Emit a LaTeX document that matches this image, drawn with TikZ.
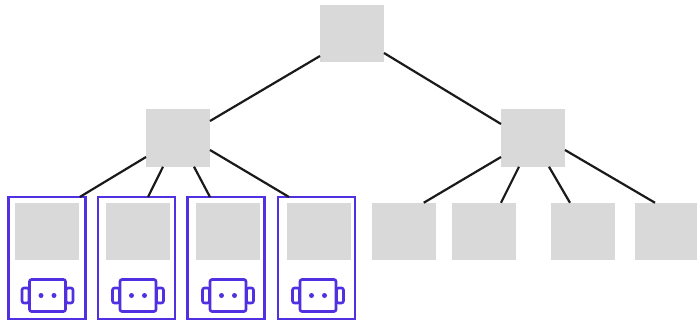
\documentclass[tikz,border=0pt]{standalone}
\definecolor{gbox}{HTML}{D9D9D9}
\definecolor{blu}{HTML}{5030E0}
\definecolor{lin}{HTML}{1A1A1A}
\tikzset{
  sq/.style={fill=gbox,draw=none,inner sep=0pt,outer sep=0pt,minimum width=64pt,minimum height=#1},
  sq/.default=57.5pt,
  frame/.style={draw=blu,line width=2.8pt,inner sep=0pt,outer sep=0pt,minimum width=77pt,minimum height=122pt},
  icon/.style={draw=blu,line width=2.6pt,rounded corners=2pt,fill=white,inner sep=0pt,outer sep=0pt},
  eye/.style={circle,fill=blu,inner sep=0pt,outer sep=0pt,minimum size=5pt},
  edge/.style={draw=lin,line width=2.2pt}
}
\begin{document}
\begin{tikzpicture}[x=1pt,y=-1pt]
\useasboundingbox (0,0) rectangle (697,322);
\node[sq] (top) at (352,33.5) {};
\node[sq] (ml) at (178,138) {};
\node[sq] (mr) at (533,138) {};
\foreach \n/\bx/\lx/\ic in {a/46.75/47/47.5,b/136.5/137.5/138,c/226/228/228,d/316.5/319/318}{
  \node[frame] (f\n) at (\bx,258) {};
  \node[sq] (l\n) at (\lx,231.5) {};
  \node[icon,minimum width=7pt,minimum height=15pt] (earl\n) at (\ic-22,295.5) {};
  \node[icon,minimum width=7pt,minimum height=15pt] (earr\n) at (\ic+22,295.5) {};
  \node[icon,minimum width=36pt,minimum height=32pt] (head\n) at (\ic,295.5) {};
  \node[eye] (eyel\n) at (\ic-6.5,295.5) {};
  \node[eye] (eyer\n) at (\ic+6.5,295.5) {};
}
\node[sq] (le) at (403.75,231.5) {};
\node[sq] (lf) at (484,231.5) {};
\node[sq] (lg) at (583,231.5) {};
\node[sq,minimum width=62pt] (lh) at (666,231.5) {};
\draw[edge] ([yshift=-22.5pt]top.west) -- ([yshift=17pt]ml.east);
\draw[edge] ([yshift=-19.5pt]top.east) -- ([yshift=14pt]mr.west);
\draw[edge] ([yshift=-19pt]ml.west) -- ([xshift=33pt]fa.north);
\draw[edge] ([xshift=-15pt]ml.south) -- ([xshift=11.5pt]fb.north);
\draw[edge] ([xshift=16pt]ml.south) -- ([xshift=-16pt]fc.north);
\draw[edge] ([yshift=-12pt]ml.east) -- ([xshift=-27.5pt]fd.north);
\draw[edge] ([yshift=-19pt]mr.west) -- ([xshift=20pt]le.north);
\draw[edge] ([xshift=-14pt]mr.south) -- ([xshift=17pt]lf.north);
\draw[edge] ([xshift=16pt]mr.south) -- ([xshift=-13pt]lg.north);
\draw[edge] ([yshift=-12pt]mr.east) -- ([xshift=-11pt]lh.north);
\end{tikzpicture}
\end{document}
